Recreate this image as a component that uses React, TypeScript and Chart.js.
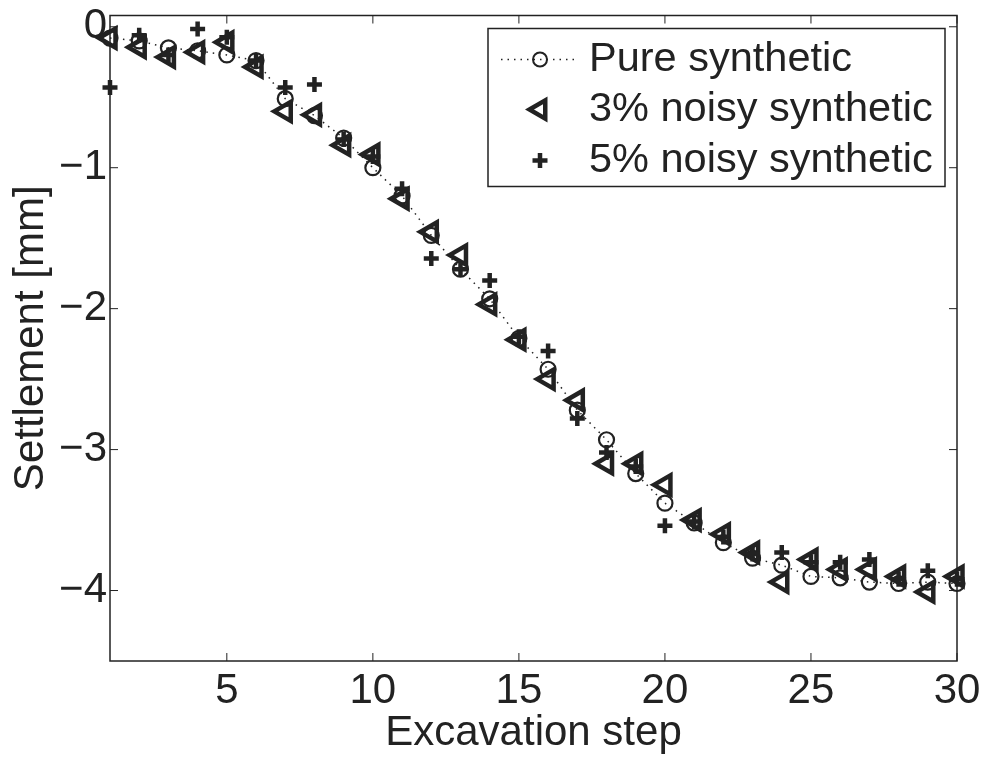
import React, { useEffect, useRef } from 'react';
import { Chart, registerables } from 'chart.js';

Chart.register(...registerables);

const steps = [1, 2, 3, 4, 5, 6, 7, 8, 9, 10, 11, 12, 13, 14, 15, 16, 17, 18, 19, 20, 21, 22, 23, 24, 25, 26, 27, 28, 29, 30];
const pureSynthetic = [-0.08, -0.1, -0.15, -0.17, -0.2, -0.24, -0.51, -0.63, -0.79, -1.0, -1.2, -1.48, -1.72, -1.93, -2.21, -2.43, -2.72, -2.93, -3.17, -3.38, -3.52, -3.66, -3.77, -3.82, -3.9, -3.91, -3.94, -3.95, -3.94, -3.95];
const noisy3 = [-0.08, -0.145, -0.215, -0.18, -0.11, -0.285, -0.6, -0.625, -0.84, -0.906, -1.22, -1.455, -1.62, -1.97, -2.22, -2.5, -2.65, -3.1, -3.1, -3.25, -3.5, -3.6, -3.73, -3.94, -3.78, -3.85, -3.85, -3.9, -4.01, -3.9];
const noisy5 = [-0.43, -0.06, -0.2, -0.015, -0.075, -0.24, -0.43, -0.41, -0.8, -0.92, -1.15, -1.645, -1.72, -1.8, -2.2, -2.3, -2.78, -3.02, -3.12, -3.54, -3.51, -3.62, -3.74, -3.73, -3.8, -3.8, -3.78, -3.92, -3.86, -3.92];
const xTicks = [5, 10, 15, 20, 25, 30];
const yTicks = [0, -1, -2, -3, -4];
const legendLabels = ['Pure synthetic', '3% noisy synthetic', '5% noisy synthetic'];
const xTitle = 'Excavation step';
const yTitle = 'Settlement [mm]';

const INK = '#222';
const FONT = "'Liberation Sans', Arial, Helvetica, sans-serif";

const toPoints = (ys: number[]) => steps.map((x, i) => ({ x, y: ys[i] }));

const framePlugin = {
  id: 'matlabFrame',
  afterDatasetsDraw(chart: any) {
    const { ctx, chartArea: a, scales } = chart;
    const xs = scales.x;
    const ys = scales.y;
    ctx.save();
    ctx.strokeStyle = INK;
    ctx.lineWidth = 1.5;
    ctx.strokeRect(a.left, a.top, a.right - a.left, a.bottom - a.top);
    const L = 8;
    ctx.lineWidth = 1;
    ctx.beginPath();
    xTicks.forEach((v) => {
      const px = xs.getPixelForValue(v);
      ctx.moveTo(px, a.bottom);
      ctx.lineTo(px, a.bottom - L);
      ctx.moveTo(px, a.top);
      ctx.lineTo(px, a.top + L);
    });
    yTicks.forEach((v) => {
      const py = ys.getPixelForValue(v);
      ctx.moveTo(a.left, py);
      ctx.lineTo(a.left + L, py);
      ctx.moveTo(a.right, py);
      ctx.lineTo(a.right - L, py);
    });
    ctx.stroke();

    // legend
    const lw = 457;
    const lh = 158;
    const lx = a.right - 469;
    const ly = a.top + 13;
    ctx.fillStyle = '#fff';
    ctx.fillRect(lx, ly, lw, lh);
    ctx.lineWidth = 1.5;
    ctx.strokeRect(lx, ly, lw, lh);
    const rows = [ly + 31, ly + 81, ly + 132];
    const sx = lx + 52;

    // row 1: dotted line + circle
    ctx.save();
    ctx.setLineDash([1.5, 5]);
    ctx.lineWidth = 1.5;
    ctx.beginPath();
    ctx.moveTo(lx + 13, rows[0]);
    ctx.lineTo(lx + 87, rows[0]);
    ctx.stroke();
    ctx.restore();
    ctx.lineWidth = 2;
    ctx.beginPath();
    ctx.arc(sx, rows[0], 7, 0, Math.PI * 2);
    ctx.stroke();

    // row 2: left triangle
    const r = 10.5;
    ctx.lineWidth = 4.5;
    ctx.lineJoin = 'miter';
    ctx.beginPath();
    for (let k = 0; k < 3; k++) {
      const ang = -Math.PI / 2 + (k * 2 * Math.PI) / 3;
      const px = sx + Math.sin(ang) * r;
      const py = rows[1] - Math.cos(ang) * r;
      if (k === 0) ctx.moveTo(px, py);
      else ctx.lineTo(px, py);
    }
    ctx.closePath();
    ctx.stroke();

    // row 3: plus
    ctx.lineWidth = 4.5;
    ctx.beginPath();
    ctx.moveTo(sx - 7.5, rows[2]);
    ctx.lineTo(sx + 7.5, rows[2]);
    ctx.moveTo(sx, rows[2] - 7.5);
    ctx.lineTo(sx, rows[2] + 7.5);
    ctx.stroke();

    ctx.fillStyle = INK;
    ctx.font = `41.5px ${FONT}`;
    ctx.textAlign = 'left';
    ctx.textBaseline = 'middle';
    legendLabels.forEach((t, i) => ctx.fillText(t, lx + 101, rows[i]));
    ctx.restore();
  },
};

export default function App() {
  const ref = useRef<HTMLCanvasElement | null>(null);

  useEffect(() => {
    if (!ref.current) return;
    Chart.defaults.font.family = FONT;
    const chart = new Chart(ref.current, {
      type: 'scatter',
      data: {
        datasets: [
          {
            label: legendLabels[0],
            data: toPoints(pureSynthetic),
            showLine: true,
            borderColor: INK,
            borderWidth: 1.5,
            borderDash: [1.5, 5],
            pointStyle: 'circle',
            pointRadius: 7.5,
            pointBorderWidth: 2.2,
            pointBorderColor: INK,
            pointBackgroundColor: 'rgba(0,0,0,0)',
            clip: false,
            order: 3,
          } as any,
          {
            label: legendLabels[1],
            data: toPoints(noisy3),
            showLine: false,
            pointStyle: 'triangle',
            rotation: -90,
            pointRadius: 11,
            pointBorderWidth: 4.5,
            pointBorderColor: INK,
            pointBackgroundColor: 'rgba(0,0,0,0)',
            clip: false,
            order: 2,
          } as any,
          {
            label: legendLabels[2],
            data: toPoints(noisy5),
            showLine: false,
            pointStyle: 'cross',
            pointRadius: 7.5,
            pointBorderWidth: 4.5,
            pointBorderColor: INK,
            pointBackgroundColor: INK,
            clip: false,
            order: 1,
          } as any,
        ],
      },
      options: {
        animation: false,
        responsive: false,
        devicePixelRatio: 1,
        layout: { padding: { left: 0, right: 25, top: 10, bottom: 0 } },
        plugins: {
          legend: { display: false },
          tooltip: { enabled: false },
        },
        scales: {
          x: {
            type: 'linear',
            min: 1,
            max: 30,
            grid: { display: false, drawTicks: false },
            border: { display: false },
            afterBuildTicks: (s: any) => {
              s.ticks = xTicks.map((v) => ({ value: v }));
            },
            afterFit: (s: any) => {
              s.height = 97;
              s.paddingLeft = 0;
              s.paddingRight = 0;
            },
            ticks: {
              color: INK,
              font: { size: 42, family: FONT, lineHeight: 1.15 },
              padding: 6,
              maxRotation: 0,
              autoSkip: false,
            },
            title: {
              display: true,
              text: xTitle,
              color: INK,
              font: { size: 42, family: FONT, lineHeight: 1.15 },
              padding: { top: 0, bottom: 0 },
            },
          },
          y: {
            type: 'linear',
            min: -4.5,
            max: 0.08,
            grid: { display: false, drawTicks: false },
            border: { display: false },
            afterBuildTicks: (s: any) => {
              s.ticks = yTicks.map((v) => ({ value: v }));
            },
            afterFit: (s: any) => {
              s.width = 110;
              s.paddingTop = 0;
              s.paddingBottom = 0;
            },
            ticks: {
              color: INK,
              font: { size: 42, family: FONT },
              padding: 3,
              autoSkip: false,
              callback: (v: any) => (Number(v) < 0 ? '\u2212' + Math.abs(Number(v)) : String(v)),
            },
            title: {
              display: true,
              text: yTitle,
              color: INK,
              font: { size: 42, family: FONT, lineHeight: 1.15 },
              padding: { top: 7, bottom: 0 },
            },
          },
        },
      },
      plugins: [framePlugin],
    } as any);
    return () => chart.destroy();
  }, []);

  return (
    <div style={{ position: 'absolute', left: 0, top: 0, width: 982, height: 758, background: '#fff' }}>
      <canvas ref={ref} width={982} height={758} />
    </div>
  );
}
